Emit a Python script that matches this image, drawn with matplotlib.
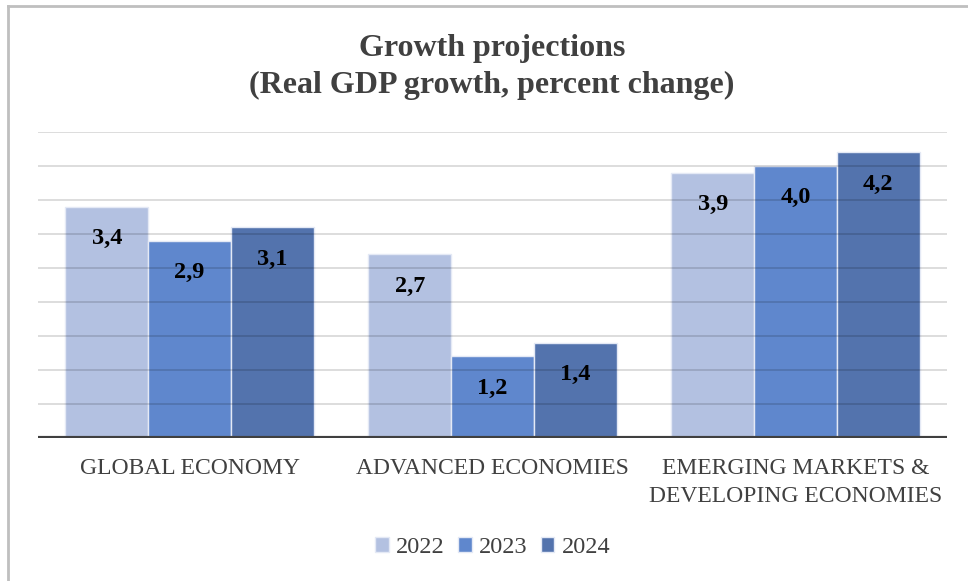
import numpy as np
import matplotlib
matplotlib.use("Agg")
import matplotlib.pyplot as plt
from matplotlib.lines import Line2D

categories = ["GLOBAL ECONOMY", "ADVANCED ECONOMIES", "EMERGING MARKETS &\nDEVELOPING ECONOMIES"]
years = ["2022", "2023", "2024"]
values_2022 = [3.4, 2.7, 3.9]
values_2023 = [2.9, 1.2, 4.0]
values_2024 = [3.1, 1.4, 4.2]
colors = ["#B3C1E1", "#5F87CD", "#5373AD"]

plt.rcParams["font.family"] = ["Liberation Serif", "DejaVu Serif"]
text_color = "#404040"

fig = plt.figure(figsize=(9.68, 5.81), dpi=100)
ax = fig.add_axes([0.0393, 0.2461, 0.9390, 0.5267])

x = np.arange(len(categories))
width = 0.273
series = [values_2022, values_2023, values_2024]
for i, (vals, year, col) in enumerate(zip(series, years, colors)):
    bars = ax.bar(x + (i - 1) * width, vals, width, color=col, edgecolor="#E4E9F5",
                  linewidth=1.0, label=year, zorder=2)
    for rect, v in zip(bars, vals):
        ax.annotate(f"{v:.1f}".replace(".", ","),
                    (rect.get_x() + rect.get_width() / 2, v),
                    textcoords="offset points", xytext=(0, -23),
                    ha="center", va="center", fontsize=17.5, fontweight="bold",
                    color="black", zorder=4)

# gridlines drawn on top, semi-transparent, like the reference
for g in np.arange(0.5, 4.51, 0.5):
    ax.axhline(g, color="black", alpha=0.15, linewidth=1.3, zorder=3)
ax.axhline(0, color="#404040", linewidth=3, zorder=5)

ax.set_ylim(0, 4.5)
ax.set_xlim(-0.5, 2.5)
ax.set_yticks([])
ax.set_xticks(x)
ax.set_xticklabels(categories, fontsize=17, color=text_color, linespacing=1.42)
ax.tick_params(axis="x", length=0, pad=14.5)
for s in ax.spines.values():
    s.set_visible(False)

fig.text(0.508, 0.884, "Growth projections\n(Real GDP growth, percent change)",
         ha="center", va="center", fontsize=23, fontweight="bold",
         color=text_color, linespacing=1.35)

leg = fig.legend(loc="center", bbox_to_anchor=(0.509, 0.058), ncol=3, frameon=False,
                 fontsize=17.5, handlelength=0.55, handleheight=0.55, handletextpad=0.3,
                 columnspacing=0.55)
for t in leg.get_texts():
    t.set_color(text_color)

# light frame at top and left (the chart border)
fig.add_artist(Line2D([8 / 968, 1.0], [1 - 5.5 / 581, 1 - 5.5 / 581],
                      transform=fig.transFigure, color="#BFBFBF", linewidth=2))
fig.add_artist(Line2D([8 / 968, 8 / 968], [0.0, 1 - 5.5 / 581],
                      transform=fig.transFigure, color="#BFBFBF", linewidth=2))

fig.savefig("out.png", dpi=100)
